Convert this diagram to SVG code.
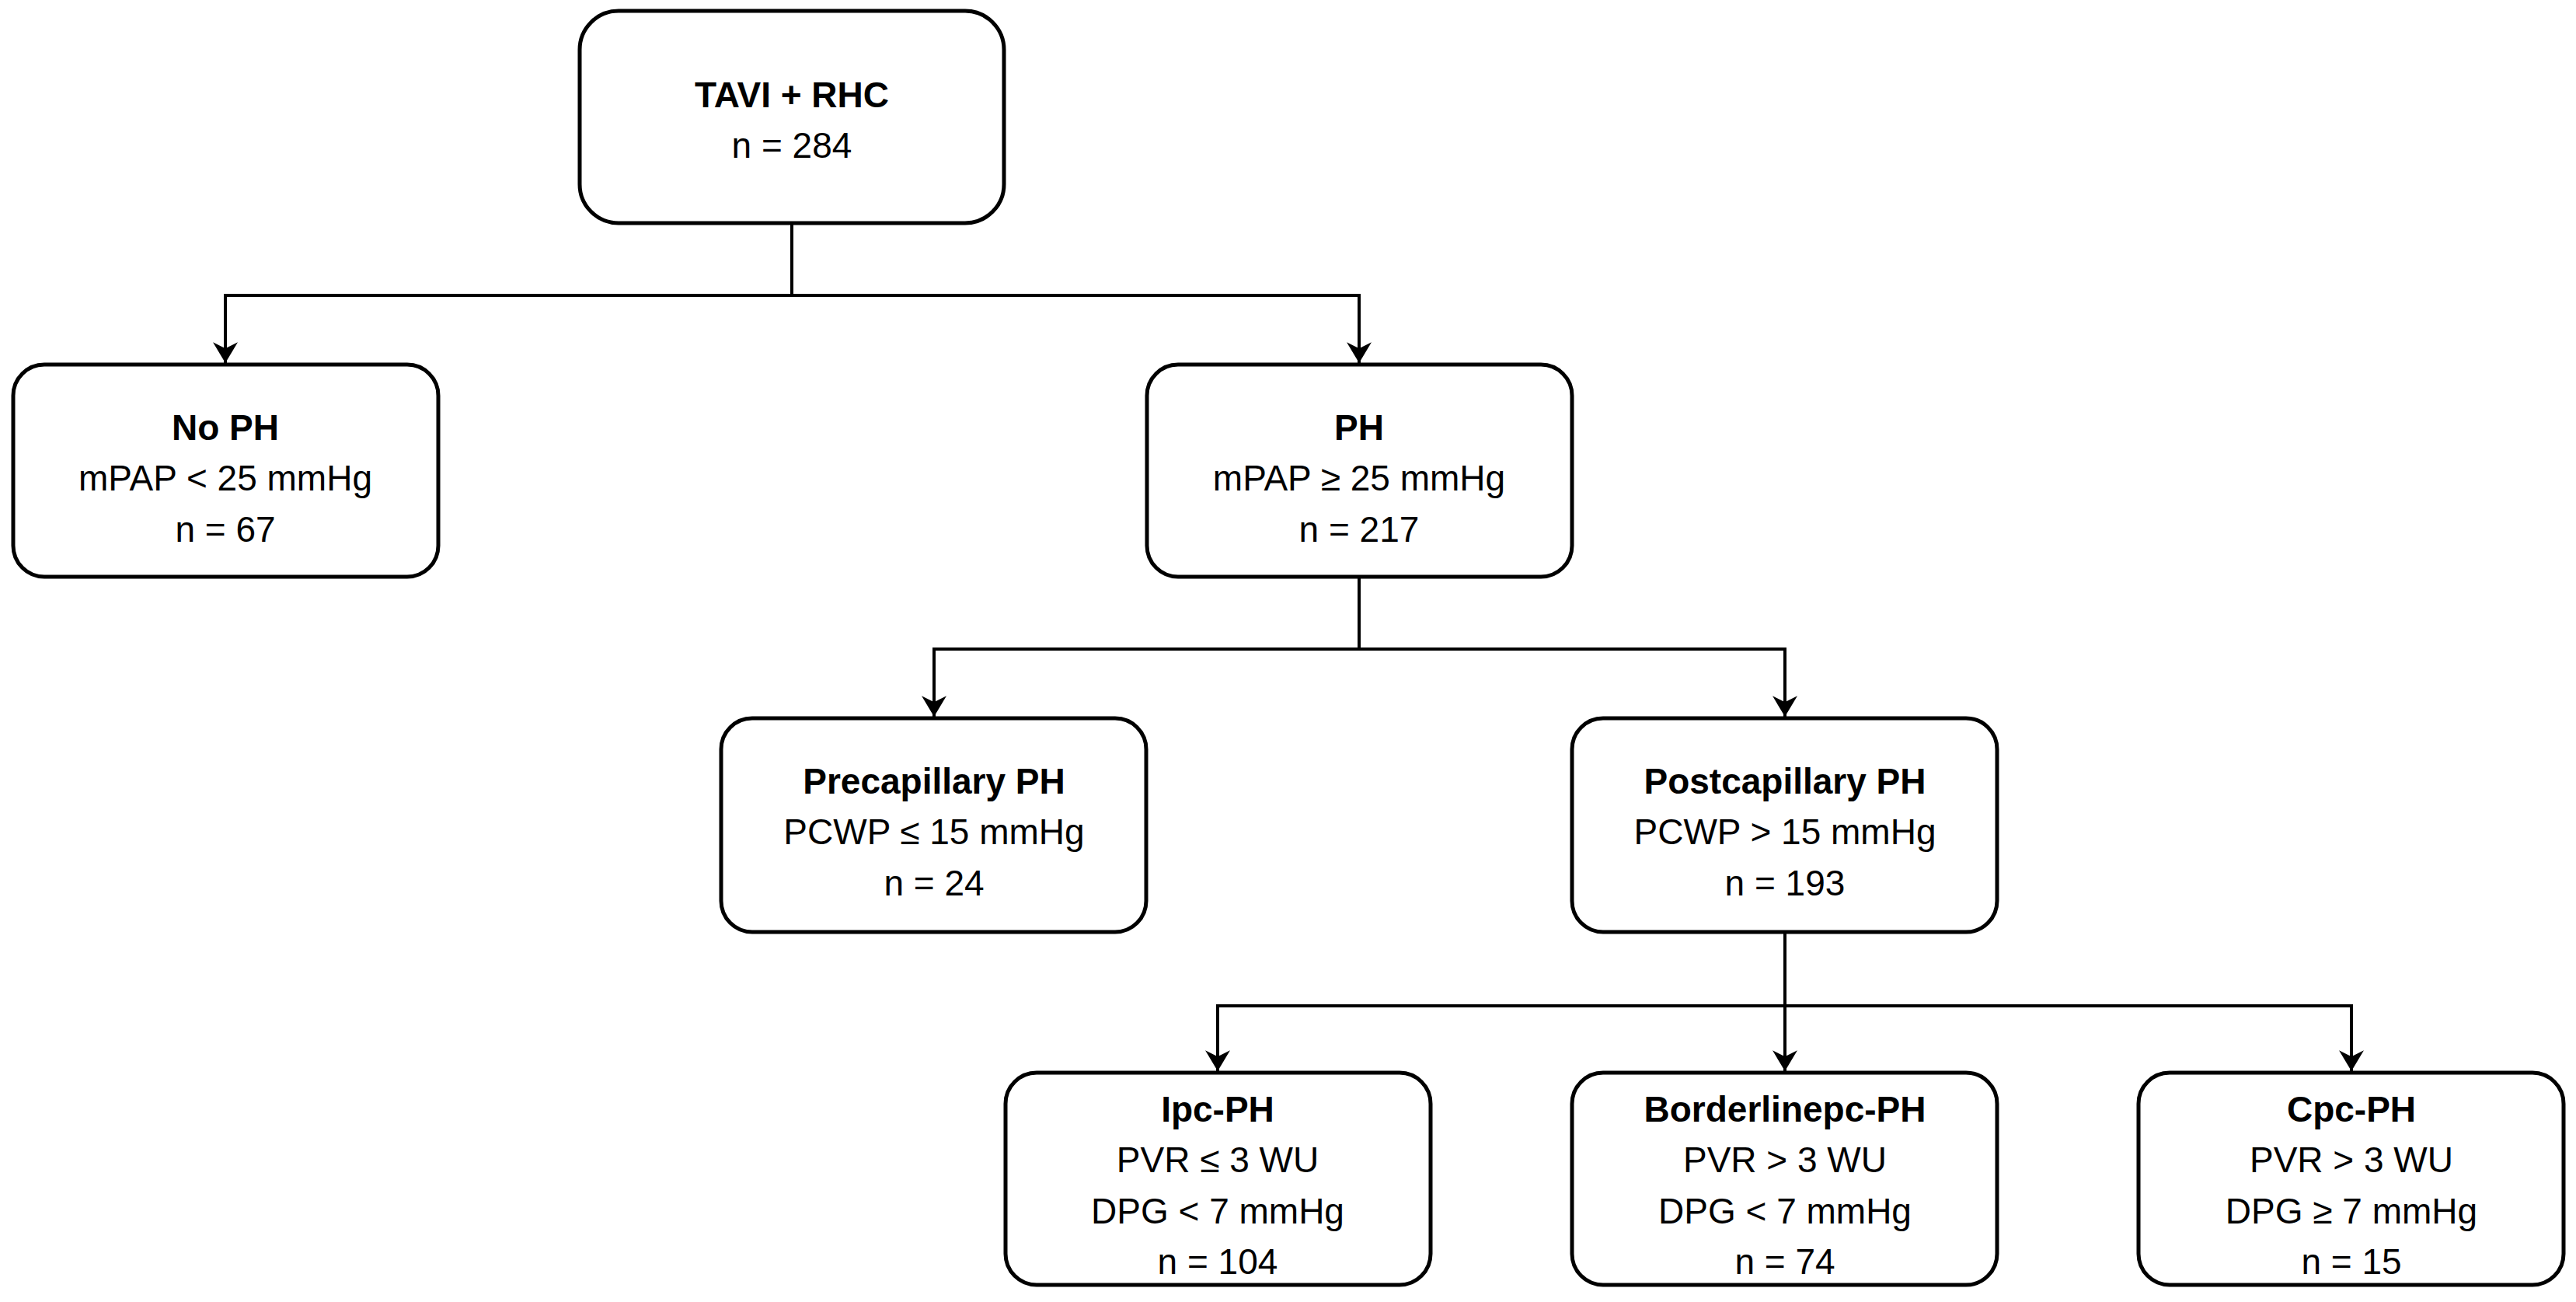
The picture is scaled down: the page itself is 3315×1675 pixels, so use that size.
<svg xmlns="http://www.w3.org/2000/svg" width="3315" height="1675" viewBox="0 0 3315 1675">
<defs>
<marker id="a" viewBox="0 0 10 12" refX="10" refY="6" markerWidth="8" markerHeight="10" markerUnits="userSpaceOnUse" orient="auto"><path d="M0,0 L10,6 L0,12 L3,6 Z" fill="#000"/></marker>
<marker id="ah" viewBox="0 0 20 24" refX="20" refY="12" markerWidth="36" markerHeight="32" orient="auto" markerUnits="userSpaceOnUse"><path d="M0,0 L20,12 L0,24 L6,12 Z" fill="#000"/></marker>
</defs>
<style>
rect{fill:#fff;stroke:#000;stroke-width:5}
text{font-family:"Liberation Sans",Arial,sans-serif;font-size:46px;text-anchor:middle;dominant-baseline:central;fill:#000}
.b{font-weight:bold}
.c{fill:none;stroke:#000;stroke-width:4}
</style>
<rect width="3315" height="1675" style="fill:#fff;stroke:none"/>
<g id="connectors">
<path class="c" d="M1019,288 V380"/>
<path class="c" d="M1019,380 H290 V467" marker-end="url(#ah)"/>
<path class="c" d="M1019,380 H1749 V467" marker-end="url(#ah)"/>
<path class="c" d="M1749,742 V835"/>
<path class="c" d="M1749,835 H1202 V922" marker-end="url(#ah)"/>
<path class="c" d="M1749,835 H2297 V922" marker-end="url(#ah)"/>
<path class="c" d="M2297,1199 V1378" marker-end="url(#ah)"/>
<path class="c" d="M2297,1294 H1567 V1378" marker-end="url(#ah)"/>
<path class="c" d="M2297,1294 H3026 V1378" marker-end="url(#ah)"/>
</g>
<g id="tavi"><rect x="746" y="14" width="546" height="273" rx="50"/><text class="b" x="1019" y="122">TAVI + RHC</text><text x="1019" y="187">n = 284</text></g>
<g id="noph"><rect x="17" y="469" width="547" height="273" rx="40"/><text class="b" x="290" y="550">No PH</text><text x="290" y="615">mPAP &lt; 25 mmHg</text><text x="290" y="681">n = 67</text></g>
<g id="ph"><rect x="1476" y="469" width="547" height="273" rx="40"/><text class="b" x="1749" y="550">PH</text><text x="1749" y="615">mPAP ≥ 25 mmHg</text><text x="1749" y="681">n = 217</text></g>
<g id="precap"><rect x="928" y="924" width="547" height="275" rx="40"/><text class="b" x="1202" y="1005">Precapillary PH</text><text x="1202" y="1070">PCWP ≤ 15 mmHg</text><text x="1202" y="1136">n = 24</text></g>
<g id="postcap"><rect x="2023" y="924" width="547" height="275" rx="40"/><text class="b" x="2297" y="1005">Postcapillary PH</text><text x="2297" y="1070">PCWP &gt; 15 mmHg</text><text x="2297" y="1136">n = 193</text></g>
<g id="ipc"><rect x="1294" y="1380" width="547" height="273" rx="40"/><text class="b" x="1567" y="1427">Ipc-PH</text><text x="1567" y="1492">PVR ≤ 3 WU</text><text x="1567" y="1558">DPG &lt; 7 mmHg</text><text x="1567" y="1623">n = 104</text></g>
<g id="border"><rect x="2023" y="1380" width="547" height="273" rx="40"/><text class="b" x="2297" y="1427">Borderlinepc-PH</text><text x="2297" y="1492">PVR &gt; 3 WU</text><text x="2297" y="1558">DPG &lt; 7 mmHg</text><text x="2297" y="1623">n = 74</text></g>
<g id="cpc"><rect x="2752" y="1380" width="547" height="273" rx="40"/><text class="b" x="3026" y="1427">Cpc-PH</text><text x="3026" y="1492">PVR &gt; 3 WU</text><text x="3026" y="1558">DPG ≥ 7 mmHg</text><text x="3026" y="1623">n = 15</text></g>
</svg>
